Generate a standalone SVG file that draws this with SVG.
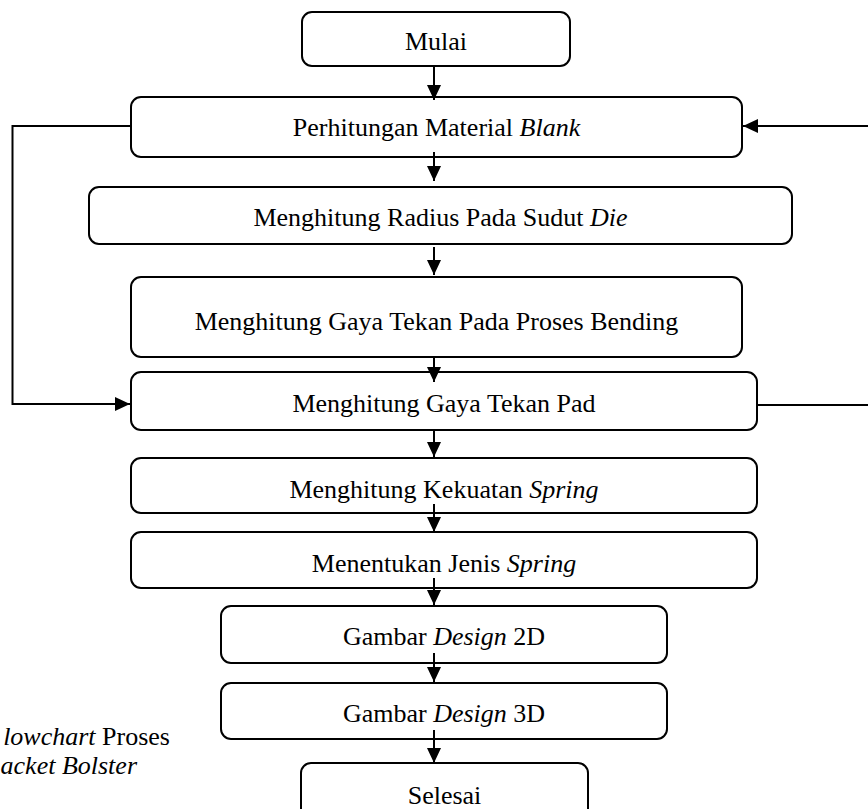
<svg xmlns="http://www.w3.org/2000/svg" width="868" height="809" viewBox="0 0 868 809">
<style>
.box{fill:#fff;stroke:#000;stroke-width:2}
.t{font-family:"Liberation Serif","Times New Roman",serif;font-size:26px;fill:#000;text-anchor:middle}
.i{font-style:italic}
.c{fill:none;stroke:#000;stroke-width:2}
.cap{font-family:"Liberation Serif","Times New Roman",serif;font-size:26px;fill:#000;text-anchor:end}
</style>
<defs>
<marker id="ah" viewBox="0 0 15 14" refX="15" refY="7" markerWidth="15" markerHeight="14" markerUnits="userSpaceOnUse" orient="auto">
<path d="M0,0 L15,7 L0,14 Z" fill="#000"/>
</marker>
</defs>
<rect width="868" height="809" fill="#fff"/>
<g id="n1"><rect class="box" x="302" y="12" width="268" height="54" rx="10"/><text class="t" x="436" y="50">Mulai</text></g>
<g id="n2"><rect class="box" x="131" y="97" width="611" height="60" rx="10"/><text class="t" x="436.5" y="136">Perhitungan Material <tspan class="i">Blank</tspan></text></g>
<g id="n3"><rect class="box" x="89" y="187" width="703" height="57" rx="10"/><text class="t" x="440.5" y="226">Menghitung Radius Pada Sudut <tspan class="i">Die</tspan></text></g>
<g id="n4"><rect class="box" x="131" y="277" width="611" height="80" rx="10"/><text class="t" x="436.5" y="330">Menghitung Gaya Tekan Pada Proses Bending</text></g>
<g id="n5"><rect class="box" x="131" y="372" width="626" height="58" rx="10"/><text class="t" x="444" y="412">Menghitung Gaya Tekan Pad</text></g>
<g id="n6"><rect class="box" x="131" y="458" width="626" height="55" rx="10"/><text class="t" x="444" y="498">Menghitung Kekuatan <tspan class="i">Spring</tspan></text></g>
<g id="n7"><rect class="box" x="131" y="532" width="626" height="56" rx="10"/><text class="t" x="444" y="572">Menentukan Jenis <tspan class="i">Spring</tspan></text></g>
<g id="n8"><rect class="box" x="221" y="606" width="446" height="57" rx="10"/><text class="t" x="444" y="645">Gambar <tspan class="i">Design</tspan> 2D</text></g>
<g id="n9"><rect class="box" x="221" y="683" width="446" height="56" rx="10"/><text class="t" x="444" y="722">Gambar <tspan class="i">Design</tspan> 3D</text></g>
<g id="n10"><rect class="box" x="301" y="763" width="287" height="64" rx="10"/><text class="t" x="444.5" y="804">Selesai</text></g>
<g id="connectors">
<path class="c" d="M434,66 V100" marker-end="url(#ah)"/>
<path class="c" d="M434,152 V181" marker-end="url(#ah)"/>
<path class="c" d="M434,247 V275" marker-end="url(#ah)"/>
<path class="c" d="M434,357 V382" marker-end="url(#ah)"/>
<path class="c" d="M434,430 V457" marker-end="url(#ah)"/>
<path class="c" d="M434,504 V532" marker-end="url(#ah)"/>
<path class="c" d="M434,578 V605" marker-end="url(#ah)"/>
<path class="c" d="M434,653 V682" marker-end="url(#ah)"/>
<path class="c" d="M434,730 V763" marker-end="url(#ah)"/>
<path class="c" d="M131,126 H12.5 V404 H130" marker-end="url(#ah)"/>
<path class="c" d="M757,405 H890 V126 H743" marker-end="url(#ah)"/>
</g>
<g id="caption">
<text class="cap" x="170" y="745"><tspan class="i">lowchart</tspan> Proses</text>
<text class="cap i" x="137" y="774">acket Bolster</text>
</g>
</svg>
